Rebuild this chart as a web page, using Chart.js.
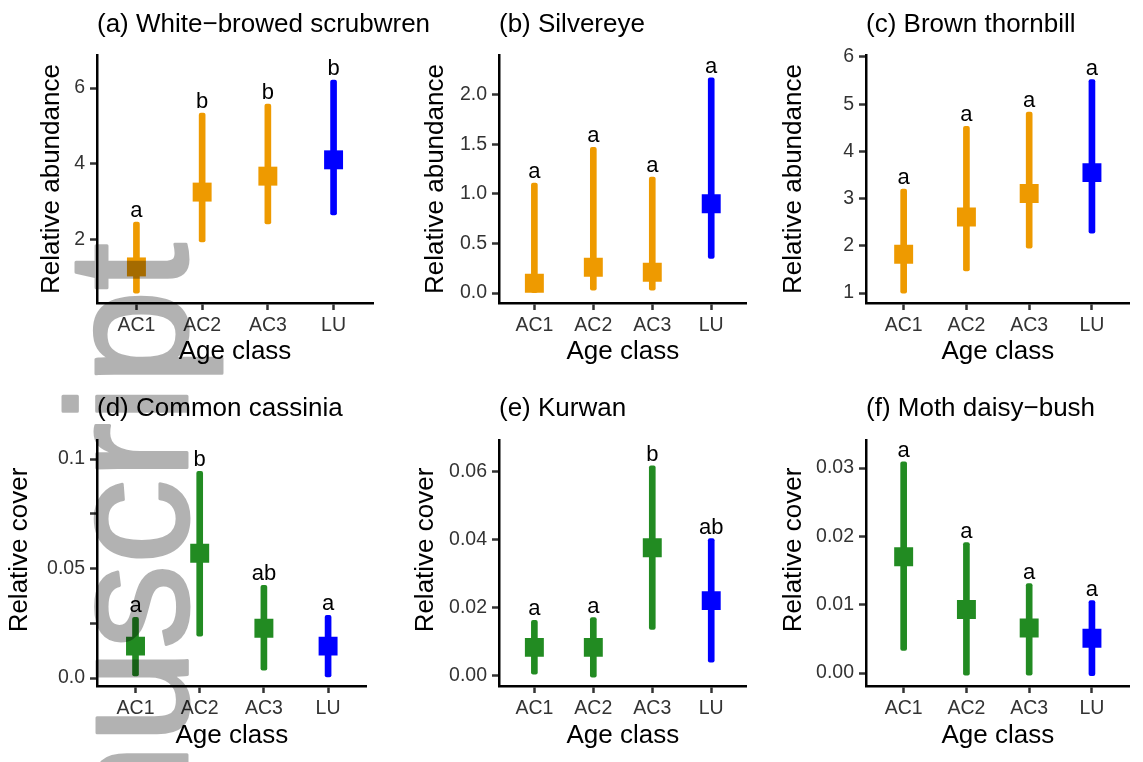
<!DOCTYPE html>
<html>
<head>
  <meta charset="UTF-8" />
  <title>Relative abundance and cover by age class</title>
  <script src="https://cdn.jsdelivr.net/npm/chart.js"></script>
  <style>
    body { margin: 0; background: #fff; }
    #wrap { position: relative; width: 1143px; height: 762px; overflow: hidden; }
    #wrap canvas { position: absolute; }
  </style>
</head>
<body>
<div id="wrap">
  <canvas id="pa" width="460" height="381" style="left:0px;top:0px"></canvas>
  <canvas id="pb" width="380" height="381" style="left:380px;top:0px"></canvas>
  <canvas id="pc" width="383" height="381" style="left:760px;top:0px"></canvas>
  <canvas id="pd" width="380" height="381" style="left:0px;top:381px"></canvas>
  <canvas id="pe" width="380" height="381" style="left:380px;top:381px"></canvas>
  <canvas id="pf" width="383" height="381" style="left:760px;top:381px"></canvas>
</div>

<script>
const ageClasses = ['AC1', 'AC2', 'AC3', 'LU'];

// (a) White-browed scrubwren
const scrubwrenMean = [1.29, 3.26, 3.68, 4.11];
const scrubwrenLow = [0.60, 1.95, 2.42, 2.66];
const scrubwrenHigh = [2.47, 5.34, 5.58, 6.21];
const scrubwrenLetters = ['a', 'b', 'b', 'b'];
const scrubwrenTicks = [2, 4, 6];

// (b) Silvereye
const silvereyeMean = [0.10, 0.26, 0.21, 0.90];
const silvereyeLow = [0.00, 0.03, 0.03, 0.35];
const silvereyeHigh = [1.11, 1.47, 1.17, 2.17];
const silvereyeLetters = ['a', 'a', 'a', 'a'];
const silvereyeTicks = [0, 0.5, 1, 1.5, 2];
const silvereyeTickLabels = ['0.0', '0.5', '1.0', '1.5', '2.0'];

// (c) Brown thornbill
const thornbillMean = [1.82, 2.61, 3.11, 3.55];
const thornbillLow = [1.00, 1.47, 1.95, 2.27];
const thornbillHigh = [3.20, 4.53, 4.83, 5.52];
const thornbillLetters = ['a', 'a', 'a', 'a'];
const thornbillTicks = [1, 2, 3, 4, 5, 6];

// (d) Common cassinia
const cassiniaMean = [0.0146, 0.0570, 0.0228, 0.0146];
const cassiniaLow = [0.0010, 0.0192, 0.0036, 0.0005];
const cassiniaHigh = [0.0278, 0.0944, 0.0424, 0.0287];
const cassiniaLetters = ['a', 'b', 'ab', 'a'];
const cassiniaTicks = [0, 0.025, 0.05, 0.075, 0.1];
const cassiniaTickLabels = ['0.0', '', '0.05', '', '0.1'];

// (e) Kurwan
const kurwanMean = [0.0082, 0.0082, 0.0376, 0.0220];
const kurwanLow = [0.0003, -0.0006, 0.0135, 0.0038];
const kurwanHigh = [0.0162, 0.0170, 0.0618, 0.0403];
const kurwanLetters = ['a', 'a', 'b', 'ab'];
const kurwanTicks = [0, 0.02, 0.04, 0.06];
const kurwanTickLabels = ['0.00', '0.02', '0.04', '0.06'];

// (f) Moth daisy-bush
const daisyMean = [0.0170, 0.0093, 0.0066, 0.0051];
const daisyLow = [0.0033, -0.0003, -0.0003, -0.0004];
const daisyHigh = [0.0309, 0.0191, 0.0131, 0.0106];
const daisyLetters = ['a', 'a', 'a', 'a'];
const daisyTicks = [0, 0.01, 0.02, 0.03];
const daisyTickLabels = ['0.00', '0.01', '0.02', '0.03'];

const FONT = "'Liberation Sans', Arial, Helvetica, sans-serif";
const ORANGE = '#EE9A00';
const GREEN = '#228B22';
const BLUE = '#0000FF';
const birdColors = [ORANGE, ORANGE, ORANGE, BLUE];
const plantColors = [GREEN, GREEN, GREEN, BLUE];

// panel text + watermark drawn on the canvas
const panelText = {
  id: 'panelText',
  afterDatasetsDraw(chart, args, o) {
    const ctx = chart.ctx, ca = chart.chartArea;
    const xs = chart.scales.x, ys = chart.scales.y;
    ctx.save();
    ctx.fillStyle = '#000';
    ctx.font = '22px ' + FONT;
    ctx.textAlign = 'center';
    ctx.textBaseline = 'alphabetic';
    o.letters.forEach((l, i) => {
      ctx.fillText(l, xs.getPixelForValue(i), ys.getPixelForValue(o.high[i]) - 5);
    });
    ctx.font = '26px ' + FONT;
    ctx.textAlign = 'left';
    ctx.fillText(o.title, ca.left, o.titleY);
    ctx.translate(o.yTitleX, (ca.top + ca.bottom) / 2 + o.yTitleDy);
    ctx.rotate(-Math.PI / 2);
    ctx.textAlign = 'center';
    ctx.textBaseline = 'middle';
    ctx.fillText(o.yTitle, 0, 0);
    ctx.restore();
  },
  afterDraw(chart, args, o) {
    // draw the watermark opaque off-screen, then lay it on at 30%
    const off = document.createElement('canvas');
    off.width = chart.width;
    off.height = chart.height;
    const g = off.getContext('2d');
    g.translate(187 - o.left, 243 - o.top);
    g.rotate(-Math.PI / 2);
    g.font = '170px ' + FONT;
    g.fillStyle = '#000';
    g.strokeStyle = '#000';
    g.lineWidth = 3;
    g.lineJoin = 'round';
    g.textAlign = 'right';
    g.textBaseline = 'alphabetic';
    g.fillText('Manuscript', 0, 0);
    g.strokeText('Manuscript', 0, 0);
    const ctx = chart.ctx;
    ctx.save();
    ctx.globalAlpha = 0.3;
    ctx.drawImage(off, 0, 0);
    ctx.restore();
  }
};

function makePanel(p) {
  const axisGrid = { offset: false, drawOnChartArea: false, drawTicks: true, tickLength: 7, tickColor: '#333', tickWidth: 2.5 };
  const axisBorder = { display: true, color: '#000', width: 2.5 };
  new Chart(document.getElementById(p.id), {
    type: 'bar',
    data: {
      datasets: [
        {
          type: 'scatter',
          data: p.mean.map((v, i) => ({ x: i, y: v })),
          pointStyle: 'rect',
          pointRadius: 13.4,
          pointBackgroundColor: p.colors,
          pointBorderColor: p.colors,
          pointBorderWidth: 0,
          order: 0
        },
        {
          type: 'bar',
          data: p.low.map((v, i) => ({ x: i, y: [v, p.high[i]] })),
          backgroundColor: p.colors,
          barThickness: 6,
          borderRadius: 2,
          borderSkipped: false,
          order: 1
        }
      ]
    },
    options: {
      responsive: false,
      animation: false,
      events: [],
      layout: { padding: { top: p.padT, right: p.padR, left: 0, bottom: 0 } },
      plugins: {
        legend: { display: false },
        tooltip: { enabled: false },
        panelText: {
          letters: p.letters, high: p.high, title: p.title, titleY: p.titleY,
          yTitle: p.yTitle, yTitleX: p.yTitleX, yTitleDy: p.yTitleDy,
          left: p.left, top: p.top
        }
      },
      scales: {
        x: {
          type: 'linear',
          min: -0.6,
          max: 3.6,
          offset: false,
          afterBuildTicks: s => { s.ticks = ageClasses.map((c, i) => ({ value: i })); },
          afterFit: s => { s.height = p.xH; },
          ticks: {
            callback: v => ageClasses[v],
            font: { size: 19.5, family: FONT },
            color: '#333',
            padding: 4,
            autoSkip: false,
            maxRotation: 0
          },
          grid: axisGrid,
          border: axisBorder,
          title: {
            display: true,
            text: 'Age class',
            font: { size: 26, family: FONT },
            color: '#000',
            padding: { top: 0, bottom: p.xTitlePad }
          }
        },
        y: {
          type: 'linear',
          min: p.yMin,
          max: p.yMax,
          afterBuildTicks: s => { s.ticks = p.ticks.map(v => ({ value: v })); },
          afterFit: s => { s.width = p.axisW; },
          ticks: {
            callback: (v, i) => p.tickLabels[i],
            font: { size: 19.5, family: FONT },
            color: '#333',
            padding: 5
          },
          grid: axisGrid,
          border: axisBorder
        }
      }
    },
    plugins: [panelText]
  });
}

const topRow = { top: 0, padT: 55, xH: 78, xTitlePad: 14, titleY: 32, yTitleDy: 0, yTitle: 'Relative abundance' };
const bottomRow = { top: 381, padT: 59, xH: 76, xTitlePad: 11, titleY: 35, yTitleDy: -13, yTitle: 'Relative cover' };

makePanel(Object.assign({}, topRow, {
  id: 'pa', left: 0, axisW: 97, padR: 87, yTitleX: 52,
  title: '(a) White\u2212browed scrubwren', colors: birdColors,
  mean: scrubwrenMean, low: scrubwrenLow, high: scrubwrenHigh, letters: scrubwrenLetters,
  yMin: 0.34, yMax: 6.87, ticks: scrubwrenTicks, tickLabels: scrubwrenTicks.map(String)
}));
makePanel(Object.assign({}, topRow, {
  id: 'pb', left: 380, axisW: 119, padR: 3, yTitleX: 56,
  title: '(b) Silvereye', colors: birdColors,
  mean: silvereyeMean, low: silvereyeLow, high: silvereyeHigh, letters: silvereyeLetters,
  yMin: -0.10, yMax: 2.40, ticks: silvereyeTicks, tickLabels: silvereyeTickLabels
}));
makePanel(Object.assign({}, topRow, {
  id: 'pc', left: 760, axisW: 106, padR: 2, yTitleX: 34,
  title: '(c) Brown thornbill', colors: birdColors,
  mean: thornbillMean, low: thornbillLow, high: thornbillHigh, letters: thornbillLetters,
  yMin: 0.79, yMax: 6.04, ticks: thornbillTicks, tickLabels: thornbillTicks.map(String)
}));
makePanel(Object.assign({}, bottomRow, {
  id: 'pd', left: 0, axisW: 97, padR: 7, yTitleX: 20,
  title: '(d) Common cassinia', colors: plantColors,
  mean: cassiniaMean, low: cassiniaLow, high: cassiniaHigh, letters: cassiniaLetters,
  yMin: -0.0036, yMax: 0.1087, ticks: cassiniaTicks, tickLabels: cassiniaTickLabels
}));
makePanel(Object.assign({}, bottomRow, {
  id: 'pe', left: 380, axisW: 119, padR: 3, yTitleX: 45.5,
  title: '(e) Kurwan', colors: plantColors,
  mean: kurwanMean, low: kurwanLow, high: kurwanHigh, letters: kurwanLetters,
  yMin: -0.0032, yMax: 0.0694, ticks: kurwanTicks, tickLabels: kurwanTickLabels
}));
makePanel(Object.assign({}, bottomRow, {
  id: 'pf', left: 760, axisW: 106, padR: 2, yTitleX: 34,
  title: '(f) Moth daisy\u2212bush', colors: plantColors,
  mean: daisyMean, low: daisyLow, high: daisyHigh, letters: daisyLetters,
  yMin: -0.0019, yMax: 0.0341, ticks: daisyTicks, tickLabels: daisyTickLabels
}));
</script>
</body>
</html>
